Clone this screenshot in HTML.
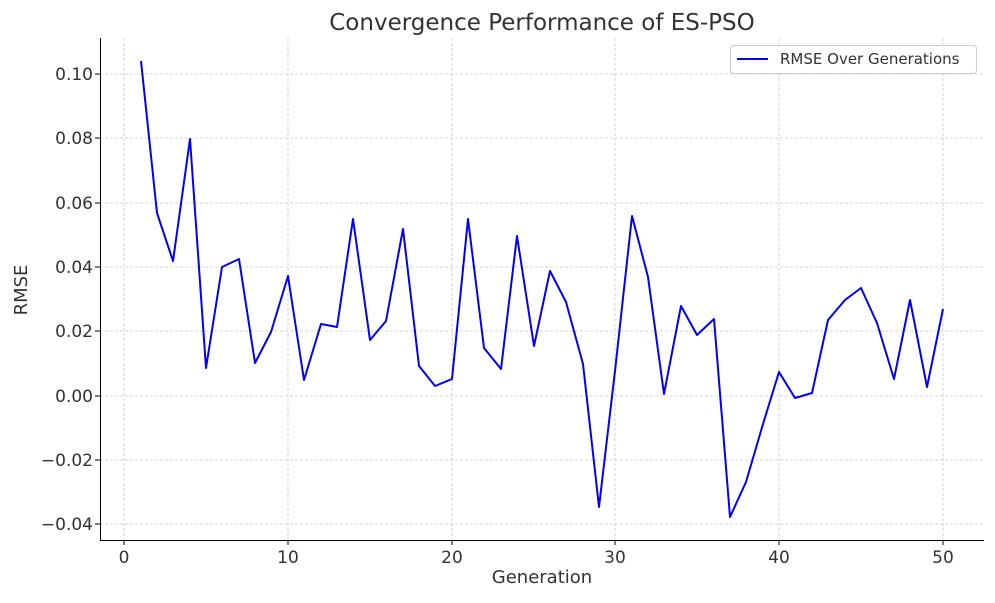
<!DOCTYPE html>
<html><head><meta charset="utf-8"><style>
body{margin:0;background:#fff;}
svg text{font-family:"DejaVu Sans","Liberation Sans",sans-serif;fill:#333;}
</style></head><body>
<svg width="995" height="598" xmlns="http://www.w3.org/2000/svg">
<rect width="995" height="598" fill="#fff"/>
<g stroke="#c8c8c8" stroke-width="0.8" stroke-dasharray="3,2">
<line x1="124" y1="38" x2="124" y2="540"/><line x1="288" y1="38" x2="288" y2="540"/>
<line x1="452" y1="38" x2="452" y2="540"/><line x1="615" y1="38" x2="615" y2="540"/>
<line x1="779" y1="38" x2="779" y2="540"/><line x1="943" y1="38" x2="943" y2="540"/>
<line x1="100" y1="74" x2="984" y2="74"/><line x1="100" y1="138" x2="984" y2="138"/>
<line x1="100" y1="203" x2="984" y2="203"/><line x1="100" y1="267" x2="984" y2="267"/>
<line x1="100" y1="331" x2="984" y2="331"/><line x1="100" y1="396" x2="984" y2="396"/>
<line x1="100" y1="460" x2="984" y2="460"/><line x1="100" y1="524" x2="984" y2="524"/>
</g>
<polyline fill="none" stroke="#0000ff" stroke-width="2" stroke-linejoin="round" points="141,61 157,213 173,261 190,139 206,368 222,267 239,259 255,363 271,332 288,276 304,380 321,324 337,327 353,219 370,340 386,321 403,229 419,366 435,386 452,379 468,219 484,348 501,369 517,236 534,346 550,271 566,302 583,364 599,507 615,371 632,216 648,277 664,394 681,306 697,335 714,319 730,517 746,482 763,424 779,372 795,398 812,393 828,320 845,300 861,288 877,323 894,379 910,300 927,387 943,309"/>
<g stroke="#000" stroke-width="1" fill="none">
<line x1="100.5" y1="38" x2="100.5" y2="540"/><line x1="100" y1="540.5" x2="984" y2="540.5"/>
</g>
<g stroke="#000" stroke-width="1">
<line x1="124" y1="540" x2="124" y2="545"/><line x1="288" y1="540" x2="288" y2="545"/>
<line x1="452" y1="540" x2="452" y2="545"/><line x1="615" y1="540" x2="615" y2="545"/>
<line x1="779" y1="540" x2="779" y2="545"/><line x1="943" y1="540" x2="943" y2="545"/>
<line x1="95" y1="74" x2="100" y2="74"/><line x1="95" y1="138" x2="100" y2="138"/>
<line x1="95" y1="203" x2="100" y2="203"/><line x1="95" y1="267" x2="100" y2="267"/>
<line x1="95" y1="331" x2="100" y2="331"/><line x1="95" y1="396" x2="100" y2="396"/>
<line x1="95" y1="460" x2="100" y2="460"/><line x1="95" y1="524" x2="100" y2="524"/>
</g>
<g font-size="17" text-anchor="middle">
<text x="124" y="563">0</text><text x="288" y="563">10</text><text x="452" y="563">20</text>
<text x="615" y="563">30</text><text x="779" y="563">40</text><text x="943" y="563">50</text>
</g>
<g font-size="17" text-anchor="end">
<text x="93" y="80">0.10</text><text x="93" y="144">0.08</text><text x="93" y="209">0.06</text>
<text x="93" y="273">0.04</text><text x="93" y="337">0.02</text><text x="93" y="402">0.00</text>
<text x="93" y="466">−0.02</text><text x="93" y="530">−0.04</text>
</g>
<text x="542" y="583" font-size="18" text-anchor="middle">Generation</text>
<text x="27" y="290" font-size="18" text-anchor="middle" transform="rotate(-90 27 290)">RMSE</text>
<text x="542" y="30" font-size="23" text-anchor="middle">Convergence Performance of ES-PSO</text>
<rect x="730.5" y="45.5" width="246" height="28" rx="3" fill="#fff" stroke="#ccc"/>
<line x1="737" y1="59" x2="768" y2="59" stroke="#0000ff" stroke-width="2"/>
<text x="780" y="64" font-size="15">RMSE Over Generations</text>
</svg>
</body></html>
